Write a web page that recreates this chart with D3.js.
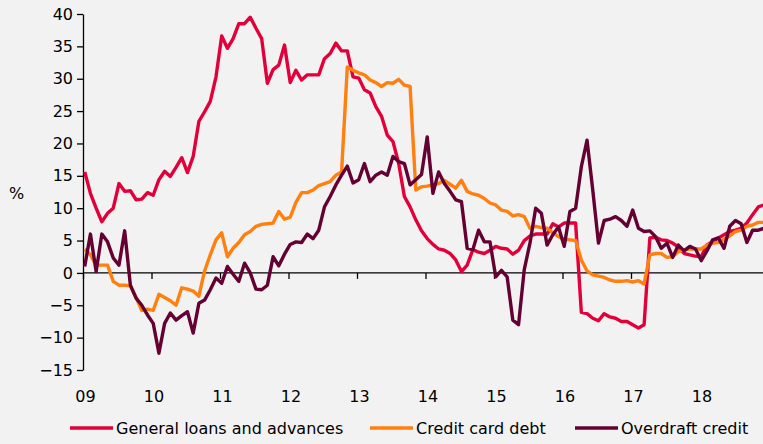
<!DOCTYPE html>
<html>
<head>
<meta charset="utf-8">
<script src="https://cdn.jsdelivr.net/npm/d3@7"></script>
<style>
  body { margin: 0; background: #f2f2f2; }
  svg { display: block; font-family: "DejaVu Sans", sans-serif; }
</style>
</head>
<body>
<div id="chart"></div>
<script>
// Monthly growth, % y/y, Jan 2009 .. Dec 2018
var yearLabels = ["09", "10", "11", "12", "13", "14", "15", "16", "17", "18"];
var yTicks = [-15, -10, -5, 0, 5, 10, 15, 20, 25, 30, 35, 40];

var generalLoans = [
  15.6, 12.3, 10.0, 7.9, 9.2, 10.0, 13.8, 12.6, 12.7, 11.3, 11.4, 12.4,
  12.0, 14.4, 15.7, 14.9, 16.3, 17.8, 15.5, 18.0, 23.4, 24.9, 26.5, 30.3,
  36.6, 34.7, 36.2, 38.5, 38.5, 39.5, 37.8, 36.2, 29.3, 31.4, 32.1, 35.2,
  29.4, 31.3, 29.8, 30.6, 30.6, 30.6, 33.1, 33.9, 35.5, 34.3, 34.3, 30.3,
  30.1, 28.3, 27.8, 25.7, 24.2, 21.3, 20.3, 16.9, 11.8, 10.2, 8.2, 6.5,
  5.3, 4.4, 3.7, 3.5, 3.0, 2.0, 0.2, 1.2, 3.6, 3.2, 3.0, 3.5,
  4.1, 3.8, 3.7, 2.9, 3.5, 5.0, 5.7, 6.0, 6.0, 6.0, 7.6, 7.1,
  7.7, 7.7, 7.7, -6.1, -6.3, -7.0, -7.4, -6.3, -6.8, -7.0, -7.5, -7.5,
  -8.0, -8.5, -8.0, 5.4, 5.5, 5.1, 5.0, 4.6, 4.0, 3.0, 2.8, 2.6,
  2.5, 4.3, 4.8, 5.4, 5.9, 6.4, 6.6, 6.9, 7.7, 9.0, 10.2, 10.5
];

var creditCard = [
  3.7, 2.8, 1.2, 1.2, 1.2, -1.3, -1.9, -1.9, -2.0, -3.8, -5.8, -5.6,
  -5.8, -3.3, -3.8, -4.3, -5.0, -2.3, -2.5, -2.8, -3.6, 0.3, 2.8, 5.1,
  6.2, 2.5, 3.8, 4.7, 5.9, 6.4, 7.2, 7.5, 7.6, 7.7, 9.5, 8.3,
  8.6, 10.9, 12.4, 12.4, 12.8, 13.5, 13.8, 14.1, 15.1, 15.6, 31.8, 31.3,
  30.9, 30.6, 29.8, 29.4, 28.8, 29.4, 29.3, 29.9, 29.0, 28.8, 12.8, 13.3,
  13.4, 13.6, 13.8, 14.3, 13.7, 13.1, 14.3, 12.6, 12.2, 12.0, 11.5, 10.8,
  10.5, 9.7, 9.5, 8.8, 9.0, 8.7, 6.9, 7.2, 7.0, 6.9, 6.2, 5.6,
  5.2, 5.1, 5.0, 2.0, 0.3, -0.3, -0.5, -0.7, -1.1, -1.3, -1.3, -1.2,
  -1.4, -1.2, -1.7, 2.8, 3.0, 3.0, 2.4, 2.5, 3.3, 3.6, 3.7, 3.7,
  3.7, 4.3, 4.6, 4.7, 5.2, 5.7, 6.4, 6.6, 7.2, 7.4, 7.8, 7.8
];

var overdraft = [
  1.0, 6.0, 0.2, 6.0, 4.8, 2.3, 1.2, 6.5, -1.9, -3.9, -5.0, -6.5,
  -7.8, -12.4, -7.8, -6.2, -7.3, -6.6, -6.0, -9.3, -4.7, -4.2, -2.6, -0.8,
  -1.6, 1.0, -0.2, -1.3, 1.5, 0.0, -2.5, -2.6, -1.9, 2.5, 1.1, 2.9,
  4.4, 4.8, 4.7, 6.0, 5.3, 6.6, 10.2, 11.8, 13.6, 15.1, 16.5, 13.9,
  14.4, 16.9, 14.1, 15.1, 15.6, 15.1, 18.0, 17.2, 16.9, 13.6, 14.4, 15.2,
  21.0, 12.3, 15.6, 13.8, 12.6, 11.3, 11.0, 3.8, 3.6, 6.6, 4.8, 4.8,
  -0.6, 0.4, -0.6, -7.3, -8.0, 0.5, 4.6, 10.0, 9.2, 4.3, 5.9, 7.1,
  4.1, 9.5, 10.0, 16.4, 20.5, 12.8, 4.6, 8.1, 8.3, 8.7, 8.1, 7.2,
  9.7, 6.9, 6.4, 6.5, 5.6, 3.8, 4.6, 2.4, 4.3, 3.4, 4.1, 3.7,
  1.9, 3.4, 5.1, 5.4, 3.8, 7.2, 8.1, 7.6, 4.7, 6.6, 6.6, 6.9
];

var seriesNames = ["General loans and advances", "Credit card debt", "Overdraft credit"];
var seriesColors = ["#e2003a", "#ff7f0f", "#650032"];
var seriesValues = [generalLoans, creditCard, overdraft];

var svgWidth = 763, svgHeight = 444;

var svg = d3.select("#chart")
  .append("svg")
  .attr("width", svgWidth)
  .attr("height", svgHeight);

// month index -> x (ticks sit on January)
var x = d3.scaleLinear().domain([0, 120]).range([83, 768]);
var y = d3.scaleLinear().domain([-15, 40]).range([370, 14]);

// y axis
var yAxis = svg.append("g")
  .attr("transform", "translate(83,0)")
  .call(d3.axisLeft(y).tickValues(yTicks).tickSize(6).tickPadding(4).tickSizeOuter(0));
yAxis.select(".domain").attr("stroke", "#000").attr("stroke-width", 1.3);
yAxis.selectAll(".tick line").attr("stroke", "#000").attr("stroke-width", 1.3);
yAxis.selectAll("text").attr("font-size", 16).attr("fill", "#000")
  .attr("font-family", "DejaVu Sans");

// x axis on the zero line
var xAxis = svg.append("g")
  .attr("transform", `translate(0,${y(0)})`)
  .call(d3.axisBottom(x).tickValues(d3.range(0, 120, 12)).tickSize(6).tickSizeOuter(0).tickFormat(""));
xAxis.select(".domain").attr("stroke", "#000").attr("stroke-width", 1.3)
  .attr("d", `M83,0H763`);
xAxis.selectAll(".tick line").attr("stroke", "#000").attr("stroke-width", 1.3);

// year labels below the plot
svg.append("g").selectAll("text")
  .data(yearLabels)
  .enter()
  .append("text")
  .attr("x", (d, i) => x(i * 12) + 2.5)
  .attr("y", 402)
  .attr("text-anchor", "middle")
  .attr("font-size", 16)
  .text(d => d);

// % label
svg.append("text")
  .attr("x", 9)
  .attr("y", 199)
  .attr("font-size", 16)
  .text("%");

// lines
var line = d3.line()
  .x((d, i) => x(i + 0.3))
  .y(d => y(d));

seriesValues.forEach((vals, k) => {
  svg.append("path")
    .datum(vals)
    .attr("fill", "none")
    .attr("stroke", seriesColors[k])
    .attr("stroke-width", 3.4)
    .attr("stroke-linejoin", "round")
    .attr("d", line);
});

// legend
var legendX = [70, 370, 575];
var legend = svg.append("g").selectAll("g")
  .data(seriesNames)
  .enter()
  .append("g")
  .attr("transform", (d, i) => `translate(${legendX[i]},428)`);

legend.append("line")
  .attr("x1", 0).attr("x2", 43)
  .attr("y1", 0).attr("y2", 0)
  .attr("stroke", (d, i) => seriesColors[i])
  .attr("stroke-width", 3.4);

legend.append("text")
  .attr("x", 46)
  .attr("y", 5.5)
  .attr("font-size", 16)
  .text(d => d);
</script>
</body>
</html>
